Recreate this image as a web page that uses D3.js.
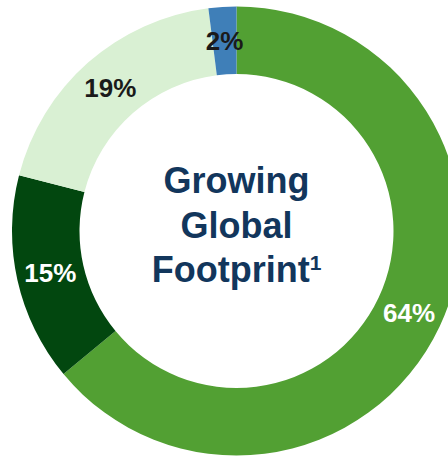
<!DOCTYPE html>
<html>
<head>
<meta charset="utf-8">
<script src="https://cdn.jsdelivr.net/npm/d3@7"></script>
<style>
  html, body { margin: 0; padding: 0; background: #fff; }
  svg { display: block; }
</style>
</head>
<body>
<svg id="chart" width="448" height="457"></svg>
<script>
// Share of footprint by segment, clockwise from 12 o'clock
const segments = ["A", "B", "C", "D"];
const shares = [64, 15, 19, 2];
const labels = ["64%", "15%", "19%", "2%"];
const sliceColors = ["#52A033", "#02470F", "#D9F0D3", "#3F7FB8"];
const labelColors = ["#ffffff", "#ffffff", "#1a1a1a", "#1a1a1a"];
const titleLines = ["Growing", "Global", "Footprint"];

const svg = d3.select("#chart");
const cx = 236.5, cy = 231;
const outerR = 224.5, innerR = 157;

const g = svg.append("g").attr("transform", `translate(${cx},${cy})`);

const data = segments.map((s, i) => ({ key: s, value: shares[i], label: labels[i], i }));

const pie = d3.pie().value(d => d.value).sort(null);
const arc = d3.arc().innerRadius(innerR).outerRadius(outerR);
const labelArc = d3.arc().innerRadius((innerR + outerR) / 2).outerRadius((innerR + outerR) / 2);

const arcs = pie(data);

g.selectAll("path.slice")
  .data(arcs)
  .join("path")
  .attr("class", "slice")
  .attr("d", arc)
  .attr("fill", d => sliceColors[d.data.i]);

g.selectAll("text.pct")
  .data(arcs)
  .join("text")
  .attr("class", "pct")
  .attr("transform", d => `translate(${labelArc.centroid(d)})`)
  .attr("text-anchor", "middle")
  .attr("dy", "0.36em")
  .attr("font-family", "Liberation Sans, Arial, sans-serif")
  .attr("font-weight", "bold")
  .attr("font-size", 26)
  .attr("fill", d => labelColors[d.data.i])
  .text(d => d.data.label);

// Centre title
const title = g.append("text")
  .attr("text-anchor", "middle")
  .attr("font-family", "Liberation Sans, Arial, sans-serif")
  .attr("font-weight", "bold")
  .attr("font-size", 36)
  .attr("fill", "#12365C");

const baselines = [-38, 6.5, 51];
titleLines.forEach((line, i) => {
  title.append("tspan").attr("x", 0).attr("y", baselines[i]).text(line);
  if (i === titleLines.length - 1) {
    title.append("tspan")
      .attr("font-size", 21)
      .attr("dy", -12)
      .text("1");
  }
});
</script>
</body>
</html>
